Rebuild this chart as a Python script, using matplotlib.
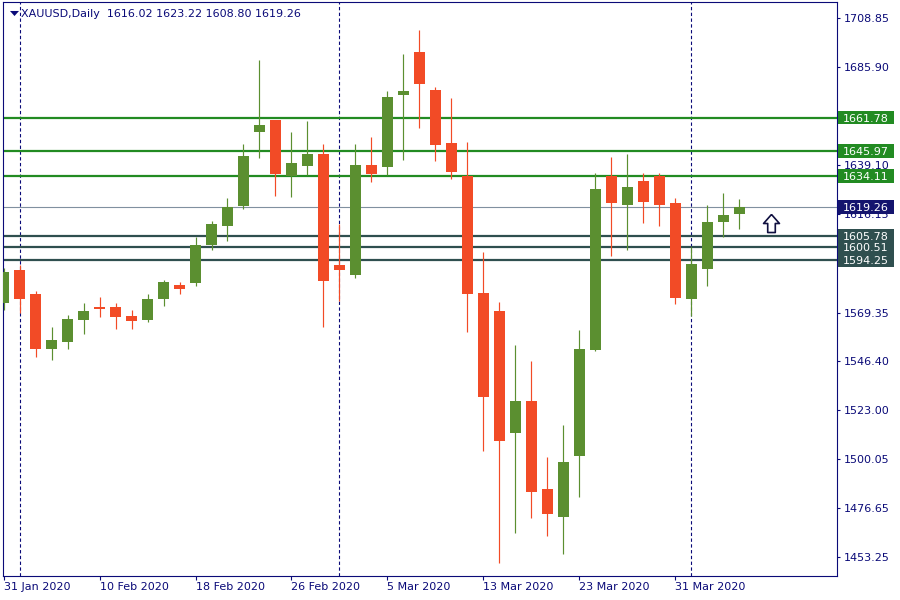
import matplotlib
matplotlib.use("Agg")
import matplotlib.pyplot as plt
import matplotlib.transforms as mtransforms
from matplotlib.patches import Rectangle
from matplotlib.path import Path

# XAUUSD daily candles, 31 Jan 2020 .. 6 Apr 2020
opens = [1574.0, 1589.5, 1578.1, 1552.2, 1555.5, 1565.9, 1572.0, 1572.0, 1567.7, 1565.9,
         1575.9, 1582.5, 1583.5, 1601.5, 1610.5, 1620.0, 1655.1, 1660.6, 1634.2, 1639.0,
         1644.5, 1591.9, 1587.1, 1639.3, 1638.5, 1672.6, 1692.9, 1674.9, 1649.7, 1634.2,
         1578.6, 1570.1, 1512.4, 1527.4, 1485.7, 1472.5, 1501.5, 1551.6, 1634.2, 1620.5,
         1631.7, 1634.2, 1621.3, 1575.9, 1590.1, 1612.4, 1616.02]
highs = [1590.3, 1591.9, 1579.4, 1562.3, 1568.2, 1573.9, 1576.7, 1573.9, 1570.5, 1578.1,
         1584.8, 1583.8, 1605.3, 1612.7, 1623.6, 1649.3, 1689.1, 1660.8, 1655.0, 1660.2,
         1649.3, 1611.2, 1649.3, 1652.6, 1674.4, 1691.9, 1703.3, 1676.3, 1671.1, 1650.2,
         1598.1, 1574.3, 1553.9, 1546.4, 1500.8, 1516.0, 1561.1, 1635.5, 1643.1, 1644.5,
         1635.5, 1635.5, 1623.6, 1600.6, 1620.3, 1626.0, 1623.22]
lows = [1570.5, 1569.3, 1548.4, 1547.0, 1552.2, 1559.3, 1567.4, 1561.7, 1561.7, 1565.0,
        1572.6, 1578.3, 1581.9, 1599.0, 1603.4, 1618.6, 1642.8, 1624.7, 1624.3, 1634.5,
        1562.3, 1574.9, 1585.7, 1631.4, 1634.5, 1641.8, 1657.0, 1641.3, 1632.8, 1560.3,
        1503.8, 1450.7, 1464.9, 1472.0, 1463.5, 1455.0, 1482.0, 1551.2, 1596.3, 1599.1,
        1611.9, 1610.5, 1573.5, 1567.6, 1582.1, 1605.3, 1608.80]
closes = [1588.6, 1575.9, 1552.2, 1556.3, 1566.3, 1570.1, 1571.0, 1567.4, 1565.5, 1575.8,
          1583.8, 1580.6, 1601.4, 1611.3, 1619.2, 1643.6, 1658.3, 1635.0, 1640.2, 1644.5,
          1584.4, 1589.6, 1639.3, 1635.0, 1671.5, 1674.4, 1677.9, 1648.9, 1636.1, 1578.3,
          1529.4, 1508.6, 1527.4, 1484.4, 1473.9, 1498.5, 1552.0, 1627.9, 1621.4, 1628.9,
          1621.9, 1620.5, 1576.4, 1592.4, 1612.3, 1615.6, 1619.26]

# date labels (every 6th bar) and month separators (bar index)
date_ticks = [0, 6, 12, 18, 24, 30, 36, 42]
date_labels = ["31 Jan 2020", "10 Feb 2020", "18 Feb 2020", "26 Feb 2020",
               "5 Mar 2020", "13 Mar 2020", "23 Mar 2020", "31 Mar 2020"]
month_starts = [1, 21, 43]

# price scale labels that are not hidden behind the level boxes
price_ticks = [1708.85, 1685.90, 1639.10, 1616.15,
               1569.35, 1546.40, 1523.00, 1500.05, 1476.65, 1453.25]

resistance = [1661.78, 1645.97, 1634.11]
support = [1605.78, 1600.51, 1594.25]
bid = 1619.26
signal_bar, signal_price = 48, 1612.0

NAVY = "#0a0a78"
UP = "#5b8f30"
DOWN = "#f24b26"
RES = "#228b22"
SUP = "#2f4f4f"

fig = plt.figure(figsize=(9, 6), dpi=100)
ax = fig.add_axes([3 / 900, 24 / 600, 833.7 / 900, 574 / 600])
ax.set_xlim(-0.04, 52.1)
ax.set_ylim(1444.4, 1716.6)

# month separators
for m in month_starts:
    ax.axvline(m, color=NAVY, lw=0.8, dashes=(3, 2.2), zorder=1)

# levels
for p in resistance:
    ax.axhline(p, color=RES, lw=1.6, zorder=2)
for p in support:
    ax.axhline(p, color=SUP, lw=1.6, zorder=2)
ax.axhline(bid, color="#8090a0", lw=0.8, zorder=2)

# candles
x = list(range(len(opens)))
cols = [UP if c >= o else DOWN for o, c in zip(opens, closes)]
ax.vlines(x, lows, highs, colors=cols, lw=0.85, zorder=3)
bottoms = [min(o, c) for o, c in zip(opens, closes)]
heights = [max(abs(c - o), 0.8) for o, c in zip(opens, closes)]
ax.bar(x, heights, bottom=bottoms, width=0.69, color=cols, lw=0, zorder=4)

# buy arrow
arrow = Path([(0, 0.5), (0.44, 0.0), (0.21, 0.0), (0.21, -0.5), (-0.21, -0.5),
              (-0.21, 0.0), (-0.44, 0.0), (0, 0.5)])
ax.plot([signal_bar], [signal_price], marker=arrow, ms=13, mfc="white",
        mec="#101040", mew=1.2, zorder=5, clip_on=False)

# axes styling
for s in ax.spines.values():
    s.set_color(NAVY)
    s.set_linewidth(0.8)
ax.yaxis.tick_right()
ax.set_yticks(price_ticks)
ax.set_yticklabels([f"{p:.2f}" for p in price_ticks])
ax.tick_params(axis="y", colors=NAVY, length=2.5, width=0.8, pad=2.6, labelsize=8)
ax.set_xticks(date_ticks)
ax.set_xticklabels(date_labels)
ax.tick_params(axis="x", colors=NAVY, length=3, width=0.8, pad=1.5, labelsize=8)
for lab in ax.get_xticklabels():
    lab.set_ha("left")

# price label boxes on the right scale
trans = mtransforms.blended_transform_factory(ax.transAxes, ax.transData)
boxes = [(p, RES) for p in resistance] + [(bid, "#14146e")] + [(p, SUP) for p in support]
for p, c in boxes:
    ax.add_patch(Rectangle((1.0012, p - 3.25), 0.0675, 6.5, transform=trans,
                           facecolor=c, edgecolor="none", clip_on=False, zorder=6))
for p, c in boxes:
    ax.text(1.0079, p, f"{p:.2f}", transform=trans, color="white", fontsize=8,
            va="center_baseline", ha="left", clip_on=False, zorder=7)

# header
tri = Path([(-0.5, 0.28), (0.5, 0.28), (0, -0.28), (-0.5, 0.28)])
ax.plot([0.0126], [0.9815], marker=tri, ms=6.5, color=NAVY, mew=0,
        transform=ax.transAxes, clip_on=False)
header = "XAUUSD,Daily  %.2f %.2f %.2f %.2f" % (opens[-1], highs[-1], lows[-1], closes[-1])
ax.text(0.0215, 0.9815, header, transform=ax.transAxes, color=NAVY, fontsize=8,
        va="center_baseline", ha="left")

fig.savefig("out.png", dpi=100, facecolor="white")
